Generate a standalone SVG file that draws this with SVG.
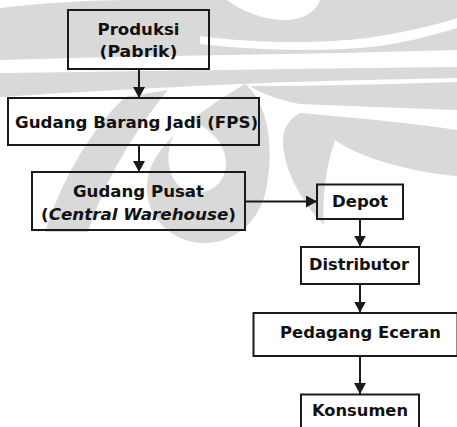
<svg xmlns="http://www.w3.org/2000/svg" width="457" height="427" viewBox="0 0 457 427">
<style>
.box{fill:none;stroke:#1a1a1a;stroke-width:2}
.t{font-family:"DejaVu Sans",Verdana,sans-serif;font-weight:bold;font-size:16px;fill:#111;text-anchor:middle}
.ln{stroke:#1a1a1a;stroke-width:2;fill:none}
.wm{fill:#d9d9d9;stroke:none}
</style>
<defs>
<marker id="ah" markerUnits="userSpaceOnUse" markerWidth="12" markerHeight="12" refX="11" refY="6" orient="auto" viewBox="0 0 12 12">
<path d="M0,0 L11,6 L0,12 Z" fill="#1a1a1a"/>
</marker>
</defs>
<rect width="457" height="427" fill="#fff"/>
<g id="watermark">
<path class="wm" d="M0,8 C40,3 90,0 130,0 L457,0 L457,50 C380,52 300,54 227,55 C150,56 70,58 0,60 Z"/>
<path fill="#fff" d="M227,0 L320,0 C315,14 300,20 285,20 C262,20 240,10 227,0 Z"/>
<path fill="#fff" d="M200,36 C260,44 330,44 380,36 C410,31 440,24 457,18 L457,28 C430,36 400,44 370,47 C320,52 250,50 200,44 Z"/>
<path class="wm" d="M0,73 C100,72 200,70 457,67 L457,78 C350,80 280,82 240,84 C150,88 60,93 0,97 Z"/>
<path class="wm" d="M250,86 C320,86 400,84 457,82 L457,110 C400,108 350,106 300,104 C280,100 262,94 250,86 Z"/>
<path class="wm" d="M300,113 C360,118 420,124 457,130 L457,176 C410,172 360,158 335,140 C325,170 322,200 324,225 C300,200 285,170 283,145 C282,130 288,120 300,113 Z"/>
<path class="wm" d="M125,97 L168,90 C135,130 105,180 88,232 L45,232 C62,180 90,130 125,97 Z"/>
<path class="wm" d="M245,84 C265,100 275,140 267,185 C262,220 235,243 205,243 C170,243 145,215 147,185 C149,150 185,120 245,84 Z"/>
<path fill="#fff" d="M190,120 C215,130 230,150 225,172 C220,188 205,195 190,192 C172,187 165,165 170,145 C174,132 180,125 190,120 Z"/>
</g>
<g id="connectors">
<line class="ln" x1="139" y1="69" x2="139" y2="98" marker-end="url(#ah)"/>
<line class="ln" x1="139" y1="145" x2="139" y2="172" marker-end="url(#ah)"/>
<polyline class="ln" points="245,201.5 317,201.5" marker-end="url(#ah)"/>
<line class="ln" x1="360" y1="219" x2="360" y2="246.5" marker-end="url(#ah)"/>
<line class="ln" x1="360" y1="284" x2="360" y2="312.5" marker-end="url(#ah)"/>
<line class="ln" x1="360" y1="356" x2="360" y2="394" marker-end="url(#ah)"/>
</g>
<g id="produksi">
<rect class="box" x="68" y="10" width="141" height="59"/>
<text class="t" x="138.5" y="34.5" textLength="82" lengthAdjust="spacingAndGlyphs">Produksi</text>
<text class="t" x="138.5" y="56.5" textLength="78" lengthAdjust="spacingAndGlyphs">(Pabrik)</text>
</g>
<g id="fps">
<rect class="box" x="8" y="98" width="251" height="47"/>
<text class="t" x="136.5" y="128" textLength="243" lengthAdjust="spacingAndGlyphs">Gudang Barang Jadi (FPS)</text>
</g>
<g id="gudang-pusat">
<rect class="box" x="32" y="172" width="213" height="58"/>
<text class="t" x="138.5" y="197" textLength="131" lengthAdjust="spacingAndGlyphs">Gudang Pusat</text>
<text class="t" x="138.5" y="220" textLength="195" lengthAdjust="spacingAndGlyphs">(<tspan font-style="italic">Central Warehouse</tspan>)</text>
</g>
<g id="depot">
<rect class="box" x="317" y="184.5" width="86" height="34.5"/>
<text class="t" x="360" y="207" textLength="56" lengthAdjust="spacingAndGlyphs">Depot</text>
</g>
<g id="distributor">
<rect class="box" x="301" y="247" width="118" height="37"/>
<text class="t" x="359" y="270" textLength="100" lengthAdjust="spacingAndGlyphs">Distributor</text>
</g>
<g id="pedagang">
<rect class="box" x="253.5" y="313" width="204" height="43"/>
<text class="t" x="360.5" y="338" textLength="161" lengthAdjust="spacingAndGlyphs">Pedagang Eceran</text>
</g>
<g id="konsumen">
<rect class="box" x="301" y="394.5" width="118" height="40"/>
<text class="t" x="360" y="416" textLength="96" lengthAdjust="spacingAndGlyphs">Konsumen</text>
</g>
</svg>
